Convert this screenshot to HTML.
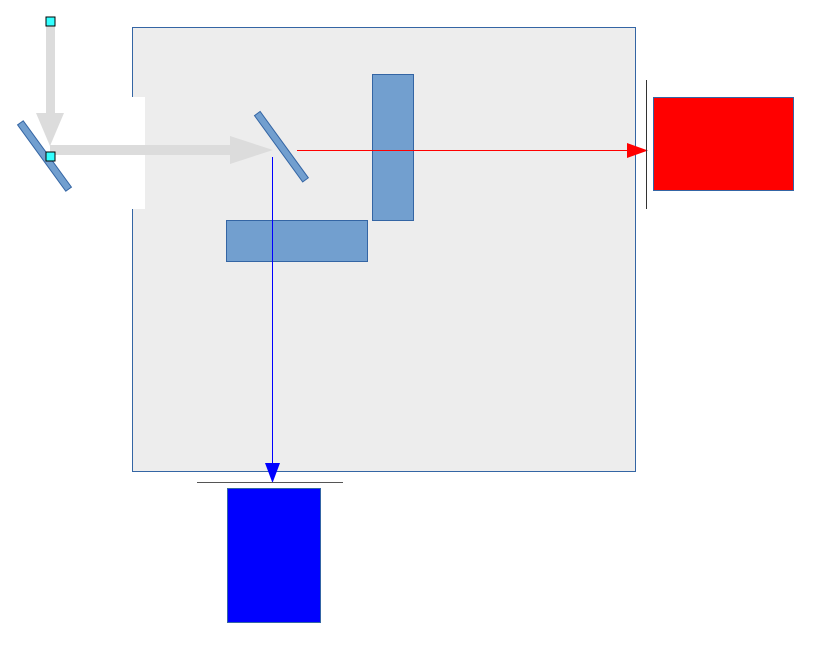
<!DOCTYPE html>
<html><head><meta charset="utf-8"><style>html,body{margin:0;padding:0;background:#fff}svg{display:block}</style></head>
<body>
<svg width="831" height="665" viewBox="0 0 831 665" xmlns="http://www.w3.org/2000/svg">
  <rect x="132.5" y="27.5" width="503" height="444" fill="#ededed" stroke="#3465a4" stroke-width="1"/>
  <rect x="128" y="97" width="17" height="112" fill="#ffffff"/>
  <g fill="#dcdcdc">
    <rect x="46" y="24" width="9" height="90"/>
    <polygon points="36,113 64,113 50,146"/>
    <rect x="50" y="145" width="182" height="10"/>
    <polygon points="230,136 273,150 230,164"/>
  </g>
  <rect x="41" y="115" width="7" height="82" fill="#729fcf" stroke="#3465a4" transform="rotate(-36 44.5 156)"/>
  <rect x="278" y="106" width="7" height="82" fill="#729fcf" stroke="#3465a4" transform="rotate(-36 281 147)"/>
  <rect x="46" y="17" width="9" height="9" fill="#33ffff" stroke="#000"/>
  <rect x="46" y="152" width="9" height="9" fill="#33ffff" stroke="#000"/>
  <rect x="372.5" y="74.5" width="41" height="146" fill="#729fcf" stroke="#3465a4"/>
  <rect x="226.5" y="220.5" width="141" height="41" fill="#729fcf" stroke="#3465a4"/>
  <line x1="297" y1="150.5" x2="630" y2="150.5" stroke="#ff0000" stroke-width="1"/>
  <polygon points="627,143 648,150.5 627,158" fill="#ff0000"/>
  <line x1="646.5" y1="80" x2="646.5" y2="209" stroke="#333" stroke-width="1"/>
  <rect x="653.5" y="97.5" width="140" height="93" fill="#ff0000" stroke="#3465a4" stroke-width="1"/>
  <line x1="272.5" y1="157" x2="272.5" y2="464" stroke="#0000ff" stroke-width="1"/>
  <polygon points="265,463 280,463 272.5,483" fill="#0000ff"/>
  <line x1="197" y1="482.5" x2="343" y2="482.5" stroke="#555" stroke-width="1"/>
  <rect x="227.5" y="488.5" width="93" height="134" fill="#0000ff" stroke="#3465a4" stroke-width="1"/>
</svg>
</body></html>
